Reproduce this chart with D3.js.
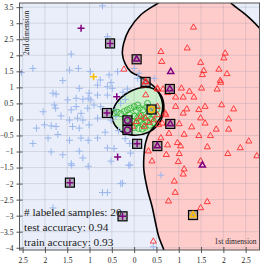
<!DOCTYPE html>
<html>
<head>
<meta charset="utf-8">
<script src="https://cdn.jsdelivr.net/npm/d3@7"></script>
<style>
body { margin: 0; background: #fff; }
svg { display: block; }
text { font-family: "Liberation Serif", "DejaVu Serif", serif; fill: #222; }
</style>
</head>
<body>
<div id="chart"></div>
<script>
// tick values and the labels as printed in the picture
const xTicks = [-2.5, -2, -1.5, -1, -0.5, 0, 0.5, 1, 1.5, 2, 2.5];
const xTickLabels = ["2.5", "2", "1.5", "1", "0.5", "0", "0.5", "1", "1.5", "2", "2.5"];
const yTicks = [3.5, 3, 2.5, 2, 1.5, 1, 0.5, 0, -0.5, -1, -1.5, -2, -2.5, -3, -3.5, -4];

const infoLines = ["# labeled samples: 20", "test accuracy: 0.94", "train accuracy: 0.93"];

// decision boundaries (data coords)
const pinkEdge = [
    [0.72, -4.40], [0.664, -4.065], [0.552, -3.66], [0.479, -3.22], [0.405, -2.73],
    [0.301, -2.20], [0.218, -1.57], [0.218, -1.17], [0.256, -0.73], [0.334, -0.42],
    [0.479, -0.17], [0.612, 0.14], [0.635, 0.51], [0.568, 0.79], [0.457, 1.01],
    [0.278, 1.20], [0.10, 1.355], [-0.078, 1.49], [-0.20, 1.73], [-0.263, 2.04],
    [-0.234, 2.38], [-0.116, 2.79], [0.145, 3.255], [0.53, 3.62], [0.92, 3.97],
    [1.48, 4.16], [1.93, 3.97], [2.19, 3.60], [2.48, 3.29], [2.78, 2.89], [3.08, 2.32]
];
const pinkOutside = [[3.6, 2.0], [3.6, -5.0], [0.8, -5.0]];
const greenEdge = [
    [0.145, 0.99], [0.434, 0.96], [0.60, 0.76], [0.665, 0.45], [0.645, 0.14],
    [0.53, -0.17], [0.323, -0.40], [-0.033, -0.49], [-0.355, -0.30], [-0.49, 0.05],
    [-0.42, 0.46], [-0.212, 0.77]
];

// samples
const bluePlus = [
    [-0.71, 3.54], [-1.41, 2.04], [-0.60, 2.58], [-2.27, 1.59], [-2.53, 1.46], [-1.45, 1.54],
    [-1.25, 1.59], [-0.98, 1.49], [-1.60, 1.21], [-0.56, 1.39], [-0.76, 1.23], [-0.82, 1.07],
    [-0.52, 1.15], [-0.37, 1.49], [-1.23, 0.97], [-1.82, 0.82], [-1.75, 0.79], [-1.01, 0.82],
    [-0.82, 0.76], [-0.60, 0.76], [-0.49, 0.97], [-0.60, 1.02], [-1.30, 0.66], [-1.15, 0.63],
    [-1.03, 0.66], [-1.49, 0.61], [-1.79, 0.45], [-1.76, 0.35], [-1.41, 0.30], [-1.30, 0.40],
    [-1.19, 0.19], [-1.64, 0.11], [-2.04, 0.24], [-1.04, 0.35], [-0.90, 0.45], [-0.97, 0.61],
    [-0.75, 0.40], [-1.45, -0.02], [-1.27, 0.04], [-1.15, -0.02], [-1.86, -0.20], [-2.01, -0.17],
    [-1.75, -0.22], [-2.19, -0.27], [-1.38, -0.22], [-1.23, -0.27], [-1.01, -0.17], [-0.52, -0.02],
    [-0.41, 0.09], [-0.82, 0.04], [-2.27, -0.75], [-1.93, -0.58], [-1.71, -0.47], [-1.45, -0.65],
    [-1.19, -0.58], [-1.03, -0.65], [-0.82, -0.58], [-0.60, -0.89], [-0.45, -0.91], [-1.86, -1.01],
    [-1.60, -1.10], [-1.23, -0.99], [-1.15, -1.20], [-1.41, -1.38], [-1.40, -1.43], [-1.03, -1.46],
    [-0.52, -1.30], [-0.12, -1.43], [-0.30, -2.00], [-0.71, -2.28], [-0.60, -2.28], [-1.82, -2.76],
    [0.60, -1.74], [0.43, -3.97], [-0.08, -1.05], [-0.09, -1.42], [-0.26, -1.99],
    [0.08, 1.28], [0.45, 1.28], [0.11, 1.44], [0.0, 1.59], [-0.41, 0.30], [-0.30, 0.50],
    [-0.20, 0.62], [-0.25, 0.85], [-0.15, 0.95], [-0.35, -0.35], [-0.20, -0.60], [-0.65, -0.40],
    [-0.10, -0.75]
];
const redTri = [
    [1.33, 2.87], [0.60, 2.11], [1.19, 2.22], [0.62, 1.80], [2.04, 2.06], [2.01, 1.91],
    [1.49, 1.77], [1.56, 1.52], [1.90, 1.56], [1.53, 1.39], [2.08, 1.42], [1.93, 1.21],
    [1.94, 1.15], [0.52, 0.94], [0.65, 0.94], [0.75, 0.83], [1.06, 0.97], [1.24, 0.87],
    [1.51, 0.97], [1.86, 0.94], [0.93, 0.69], [1.10, 0.69], [1.34, 0.69], [0.26, 0.76],
    [0.93, 0.40], [1.18, 0.32], [1.45, 0.30], [1.59, 0.40], [1.96, 0.45], [2.23, 0.32],
    [1.10, 0.19], [0.71, 0.14], [0.63, -0.12], [1.01, -0.14], [1.49, 0.04], [1.59, -0.12],
    [1.29, -0.24], [1.84, -0.31], [2.12, 0.01], [2.12, -0.31], [0.60, -0.58], [0.78, -0.44],
    [1.12, -0.47], [1.45, -0.51], [1.71, -0.51], [0.75, -0.80], [0.97, -0.73], [1.04, -0.83],
    [1.64, -0.86], [2.38, -0.89], [2.57, -0.68], [0.32, -0.99], [0.40, -1.30], [0.72, -1.10],
    [1.01, -1.07], [0.99, -1.32], [1.49, -1.30], [2.10, -1.07], [2.75, -1.14], [1.12, -1.55],
    [1.10, -1.71], [0.90, -1.93], [0.92, -2.28], [0.77, -2.55], [1.64, -2.57], [1.49, -2.76],
    [0.43, -3.80], [-0.23, 1.56], [0.22, 1.07], [0.52, 0.97],
    [0.05, -0.07], [0.145, 0.09], [0.256, 0.04], [0.33, -0.10], [0.44, -0.02], [0.52, 0.14],
    [0.52, 0.40], [0.70, 0.19], [0.74, -0.12], [0.55, -0.17], [0.22, -0.22], [-0.04, -0.22]
];
const greenCirc = [
    [-0.45, 0.20], [-0.38, 0.22], [-0.30, 0.18], [-0.22, 0.25], [-0.15, 0.30], [-0.08, 0.35],
    [0.0, 0.40], [0.05, 0.28], [0.12, 0.35], [0.20, 0.30], [0.28, 0.38], [0.35, 0.25],
    [-0.10, 0.15], [0.0, 0.10], [0.08, 0.05], [0.15, 0.12], [0.22, 0.05], [0.30, 0.10],
    [0.38, 0.02], [0.45, 0.12], [-0.05, -0.05], [0.05, -0.12], [0.12, -0.08], [0.20, -0.15],
    [0.28, -0.05], [0.35, -0.18], [-0.12, -0.18], [0.0, -0.25], [0.10, -0.28], [0.18, -0.30],
    [0.25, -0.25], [0.42, -0.10], [0.50, 0.30], [-0.20, 0.05], [0.08, 0.45], [0.30, 0.50]
];

// labeled samples (squares) and highlighted points
const squares = [
    [-0.54, 2.37], [-0.61, 0.20], [0.056, 1.875], [0.256, 1.17], [0.80, 0.95], [0.39, 0.31],
    [0.81, -0.14], [-1.44, -1.97], [-0.26, -3.02], [0.067, -0.76], [0.52, -0.83], [1.32, -2.98],
    [-0.15, -0.03], [-0.15, -0.33]
];
const purplePlus = [[-1.19, 2.84], [-0.39, 0.71], [-0.37, -1.17], [-0.54, 2.37], [-0.61, 0.20],
    [-1.44, -1.97], [-0.26, -3.02], [0.067, -0.76]];
const purpleTri = [[0.82, 1.49], [1.53, -1.43], [0.056, 1.875], [0.80, 0.95], [0.81, -0.14], [0.52, -0.83]];
const purpleCirc = [[-0.15, -0.03], [-0.15, -0.33]];
const yellowPlus = [[-0.91, 1.33]];
const yellowCirc = [[0.39, 0.31]];
const yellowTri = [[1.32, -2.98]];

const width = 264, height = 264;
const margin = ({top: 3, right: 4.5, bottom: 14, left: 19.5});

const x = d3.scaleLinear().domain([-2.57, 2.81]).range([margin.left, width - margin.right]);
const y = d3.scaleLinear().domain([-4.07, 3.63]).range([height - margin.bottom, margin.top]);

const svg = d3.select("#chart").append("svg")
    .attr("width", width).attr("height", height);

svg.append("clipPath").attr("id", "plot-clip")
    .append("rect")
    .attr("x", x.range()[0]).attr("y", y.range()[1])
    .attr("width", x.range()[1] - x.range()[0])
    .attr("height", y.range()[0] - y.range()[1]);

const plot = svg.append("g").attr("clip-path", "url(#plot-clip)");

plot.append("rect")
    .attr("x", x.range()[0]).attr("y", y.range()[1])
    .attr("width", x.range()[1] - x.range()[0])
    .attr("height", y.range()[0] - y.range()[1])
    .attr("fill", "#e9eefa");

const edgeLine = d3.line().x(d => x(d[0])).y(d => y(d[1])).curve(d3.curveCatmullRom);
const closedLine = d3.line().x(d => x(d[0])).y(d => y(d[1])).curve(d3.curveCatmullRomClosed);

// pink region: boundary curve plus straight closure outside the frame
const pinkFill = edgeLine(pinkEdge) + pinkOutside.map(d => `L${x(d[0])},${y(d[1])}`).join("") + "Z";
plot.append("path").attr("d", pinkFill).attr("fill", "#ffcccc");
plot.append("path").attr("d", closedLine(greenEdge)).attr("fill", "#ccf0cc");

// grid
const grid = plot.append("g").attr("stroke", "#8890a0").attr("stroke-opacity", 0.3).attr("stroke-width", 0.8);
grid.selectAll(".gx").data(xTicks).join("line")
    .attr("x1", d => x(d)).attr("x2", d => x(d))
    .attr("y1", y.range()[0]).attr("y2", y.range()[1]);
grid.selectAll(".gy").data(yTicks).join("line")
    .attr("y1", d => y(d)).attr("y2", d => y(d))
    .attr("x1", x.range()[0]).attr("x2", x.range()[1]);

plot.append("path").attr("d", edgeLine(pinkEdge))
    .attr("fill", "none").attr("stroke", "#000").attr("stroke-width", 1.6);
plot.append("path").attr("d", closedLine(greenEdge))
    .attr("fill", "none").attr("stroke", "#000").attr("stroke-width", 1.6);

// info text
svg.append("g").selectAll("text").data(infoLines).join("text")
    .attr("x", 24)
    .attr("y", (d, i) => 216 + i * 15)
    .attr("font-size", 11.3)
    .text(d => d);

// markers
const plusType = {
    draw(ctx, size) {
        const s = Math.sqrt(size) / 2;
        ctx.moveTo(-s, 0); ctx.lineTo(s, 0);
        ctx.moveTo(0, -s); ctx.lineTo(0, s);
    }
};
const plusPath = d3.symbol().type(plusType).size(49)();
const triPath = d3.symbol().type(d3.symbolTriangle).size(16)();
const circPath = d3.symbol().type(d3.symbolCircle).size(28)();

function drawMarks(data, path, color, sw) {
    plot.append("g").selectAll("path").data(data).join("path")
        .attr("transform", d => `translate(${x(d[0])},${y(d[1])})`)
        .attr("d", path)
        .attr("fill", "none")
        .attr("stroke", color)
        .attr("stroke-width", sw);
}

drawMarks(bluePlus, plusPath, "#9ab6ec", 1);
drawMarks(greenCirc, circPath, "#33b533", 0.9);
drawMarks(redTri, triPath, "#ff2a2a", 0.9);

plot.append("g").selectAll("rect").data(squares).join("rect")
    .attr("x", d => x(d[0]) - 4.5).attr("y", d => y(d[1]) - 4.5)
    .attr("width", 9).attr("height", 9)
    .attr("fill", "#808080").attr("fill-opacity", 0.55)
    .attr("stroke", "#000").attr("stroke-width", 1.2);

drawMarks([[0.256, 1.17]], triPath, "#ff2a2a", 1.2);
drawMarks(purplePlus, plusPath, "#800080", 1.5);
drawMarks(purpleTri, triPath, "#800080", 1.5);
drawMarks(purpleCirc, circPath, "#800080", 1.5);
drawMarks(yellowPlus, plusPath, "#ffbf00", 1.5);
drawMarks(yellowCirc, circPath, "#ffbf00", 1.5);
drawMarks(yellowTri, triPath, "#ffbf00", 1.5);

// frame
svg.append("rect")
    .attr("x", x.range()[0]).attr("y", y.range()[1])
    .attr("width", x.range()[1] - x.range()[0])
    .attr("height", y.range()[0] - y.range()[1])
    .attr("fill", "none").attr("stroke", "#555").attr("stroke-width", 1);

// axes (ticks drawn in and out)
const xAxis = svg.append("g")
    .attr("transform", `translate(0,${y.range()[0]})`)
    .call(d3.axisBottom(x).tickValues(xTicks).tickSize(3)
        .tickFormat((d, i) => xTickLabels[i]));
xAxis.select(".domain").remove();
xAxis.selectAll(".tick line").attr("y1", -3).attr("stroke", "#555");
xAxis.selectAll(".tick text").attr("font-size", 7.5).attr("dy", "0.95em").attr("fill", "#333");

const yAxis = svg.append("g")
    .attr("transform", `translate(${x.range()[0]},0)`)
    .call(d3.axisLeft(y).tickValues(yTicks).tickSize(3).tickFormat(d3.format("")));
yAxis.select(".domain").remove();
yAxis.selectAll(".tick line").attr("x1", 3).attr("stroke", "#555");
yAxis.selectAll(".tick text").attr("font-size", 7.5).attr("fill", "#333");

svg.append("text")
    .attr("transform", `translate(${x.range()[0] + 9},${y(2.7)}) rotate(-90)`)
    .attr("text-anchor", "middle")
    .attr("font-size", 7.5)
    .text("2nd dimension");

svg.append("text")
    .attr("x", x.range()[1] - 3)
    .attr("y", y(-3.87))
    .attr("text-anchor", "end")
    .attr("font-size", 7.5)
    .text("1st dimension");
</script>
</body>
</html>
